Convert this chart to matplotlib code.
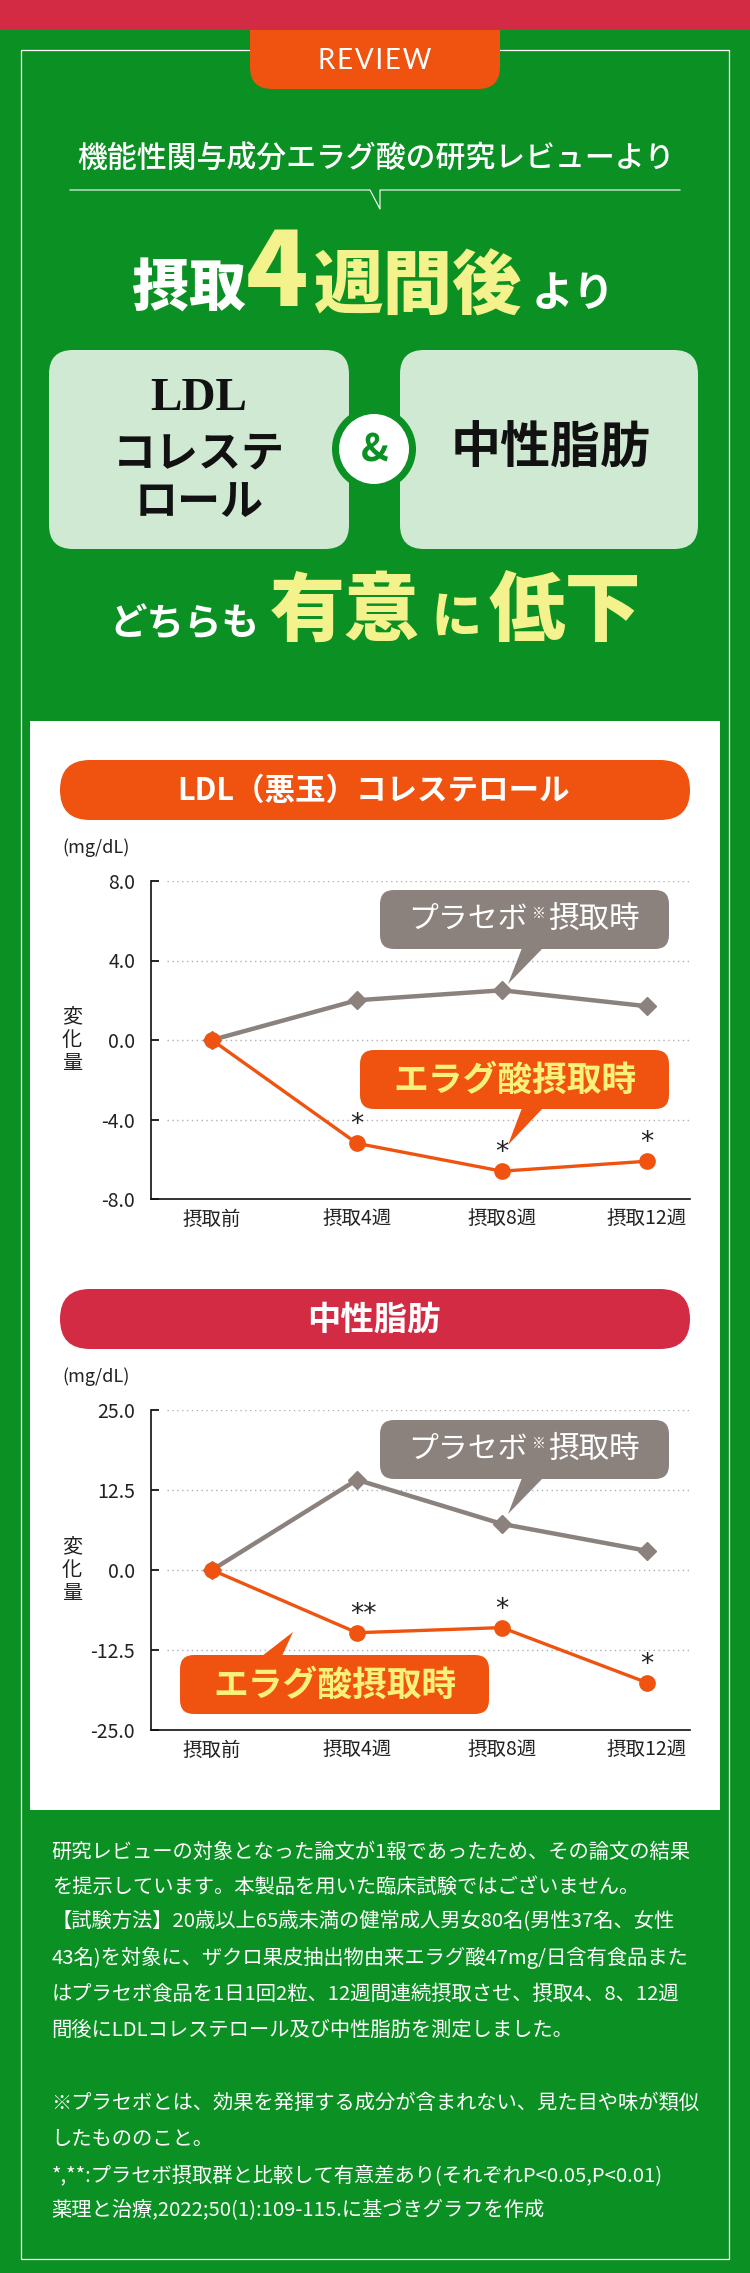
import numpy as np
import matplotlib.pyplot as plt
from matplotlib.patches import FancyBboxPatch, Rectangle, Polygon, Circle

plt.rcParams['font.family'] = ['Noto Sans CJK JP', 'DejaVu Sans']

# ---- data ----
weeks = ['摂取前', '摂取4週', '摂取8週', '摂取12週']

ldl_placebo = [0.0, 2.0, 2.5, 1.7]
ldl_ellagic = [0.0, -5.2, -6.6, -6.1]
ldl_marks = ['', '*', '*', '*']
ldl_ticks = [8.0, 4.0, 0.0, -4.0, -8.0]

tg_placebo = [0.0, 14.1, 7.2, 3.0]
tg_ellagic = [0.0, -9.8, -9.0, -17.6]
tg_marks = ['', '**', '*', '*']
tg_ticks = [25.0, 12.5, 0.0, -12.5, -25.0]

notes = [
    '研究レビューの対象となった論文が1報であったため、その論文の結果',
    'を提示しています。本製品を用いた臨床試験ではございません。',
    '【試験方法】20歳以上65歳未満の健常成人男女80名(男性37名、女性',
    '43名)を対象に、ザクロ果皮抽出物由来エラグ酸47mg/日含有食品また',
    'はプラセボ食品を1日1回2粒、12週間連続摂取させ、摂取4、8、12週',
    '間後にLDLコレステロール及び中性脂肪を測定しました。',
    '',
    '※プラセボとは、効果を発揮する成分が含まれない、見た目や味が類似',
    'したもののこと。',
    '*,**:プラセボ摂取群と比較して有意差あり(それぞれP<0.05,P<0.01)',
    '薬理と治療,2022;50(1):109-115.に基づきグラフを作成',
]

GREEN = '#0b9023'
RED = '#d42b45'
ORANGE = '#ef530f'
GRAY = '#8b827e'
PALE = '#d0e9d3'
YELLOW = '#f4f28c'
BYELLOW = '#f9f27a'
INK = '#222222'

W, H = 750, 2273
fig = plt.figure(figsize=(7.5, 22.73), dpi=100, facecolor=GREEN)

bg = fig.add_axes([0, 0, 1, 1], zorder=0)
bg.set_xlim(0, W)
bg.set_ylim(H, 0)
bg.axis('off')

fg = fig.add_axes([0, 0, 1, 1], zorder=5)
fg.set_xlim(0, W)
fg.set_ylim(H, 0)
fg.axis('off')
fg.patch.set_alpha(0)


def rbox(ax, x0, y0, x1, y1, r, color, z=1):
    ax.add_patch(FancyBboxPatch((x0, y0), x1 - x0, y1 - y0,
                                boxstyle=f'round,pad=0,rounding_size={r}',
                                fc=color, ec='none', zorder=z))


# ---- header ----
bg.add_patch(Rectangle((20.6, 50), 708.4, 2209, fill=False, ec='white', lw=0.9, zorder=1))
rbox(bg, 250, -30, 500, 89, 22, ORANGE, z=2)
bg.add_patch(Rectangle((0, 0), W, 30, fc=RED, ec='none', zorder=3))
bg.text(375, 61, '\u200a'.join('REVIEW'), family=['Lato', 'DejaVu Sans'], fontsize=20,
        color='white', ha='center', va='center', zorder=4)

bg.text(376, 159, '機能性関与成分エラグ酸の研究レビューより', fontsize=21.5,
        weight='medium', color='white', ha='center', va='center')
bg.plot([70, 370, 380, 380, 680], [190, 190, 209, 190, 190], color='white', lw=0.8)

bg.text(189, 290, '摂取', fontsize=41, weight='black', color='white', ha='center', va='center')
bg.text(277, 275, '4', fontsize=74, weight='black', color=YELLOW, ha='center', va='center')
bg.text(418, 288, '週間後', fontsize=50, weight='black', color=YELLOW, ha='center', va='center')
bg.text(573, 294, 'より', fontsize=30, weight='bold', color='white', ha='center', va='center')

rbox(bg, 49, 350, 349, 549, 24, PALE)
rbox(bg, 400, 350, 698, 549, 24, PALE)
bg.add_patch(Circle((374, 449), 42, fc=GREEN, ec='none', zorder=2))
bg.add_patch(Circle((374, 449), 35, fc='white', ec='none', zorder=3))
bg.text(375, 450, '&', fontsize=27, weight='bold', color=GREEN, ha='center', va='center', zorder=4)

bg.text(199, 399, 'LDL', family='Liberation Serif', fontsize=34, weight='bold',
        color='#111111', ha='center', va='center')
bg.text(199, 453, 'コレステ', fontsize=31, weight='bold', color='#111111', ha='center', va='center')
bg.text(199, 502, 'ロール', fontsize=31, weight='bold', color='#111111', ha='center', va='center')
bg.text(551, 449, '中性脂肪', fontsize=36, weight='bold', color='#111111', ha='center', va='center')

bg.text(184, 624, 'どちらも', fontsize=27, weight='bold', color='white', ha='center', va='center')
bg.text(345, 613, '有意', fontsize=54, weight='black', color=YELLOW, ha='center', va='center')
bg.text(456, 618, 'に', fontsize=36, weight='black', color=YELLOW, ha='center', va='center')
bg.text(565, 612, '低下', fontsize=55, weight='black', color=YELLOW, ha='center', va='center')

# ---- white panel ----
bg.add_patch(Rectangle((30, 721), 690, 1089, fc='white', ec='none', zorder=1))


def chart(top, bottom, title, title_color, title_size, ticks, placebo, ellagic, marks):
    ax = fig.add_axes([150.5 / W, 1 - bottom / H, (690 - 150.5) / W, (bottom - top) / H], zorder=2)
    ax.set_facecolor('none')
    x = np.arange(len(weeks))
    ax.set_xlim(-0.424, 3.297)
    ax.set_ylim(ticks[-1], ticks[0])
    for s in ['top', 'right']:
        ax.spines[s].set_visible(False)
    for s in ['left', 'bottom']:
        ax.spines[s].set_linewidth(1.2)
        ax.spines[s].set_color('#111111')
    ax.hlines(ticks[:-1], (167 - 150.5) / 539.5, 1, transform=ax.get_yaxis_transform(),
              colors='#b0b0b0', linestyles=(0, (1, 2.5)), lw=1, zorder=1)
    ax.plot(x, placebo, color=GRAY, lw=3.2, marker='D', ms=9, zorder=3, clip_on=False)
    ax.plot(x, ellagic, color=ORANGE, lw=2.4, marker='o', ms=11, zorder=4, clip_on=False)
    for xi, v, m in zip(x, ellagic, marks):
        if m:
            ax.annotate(m, (xi, v), xytext=(6 if len(m) > 1 else 0, 18),
                        textcoords='offset pixels', ha='center', va='center',
                        family='DejaVu Sans', fontsize=19, color=INK)
    ax.set_yticks(ticks)
    ax.set_yticklabels([f'{t:.1f}' for t in ticks])
    ax.tick_params(axis='y', direction='in', length=6, width=1.2, pad=11,
                   labelsize=14, labelcolor=INK)
    ax.set_xticks(x)
    ax.set_xticklabels(weeks)
    ax.tick_params(axis='x', length=0, pad=7, labelsize=14, labelcolor=INK)

    # title pill
    rbox(bg, 60, top - 121, 690, top - 61, 30, title_color, z=2)
    bg.text(374, top - 90, title, fontsize=title_size, weight='bold', color='white',
            ha='center', va='center', zorder=3)
    bg.text(62, top - 33, '(mg/dL)', fontsize=13, color=INK, ha='left', va='center', zorder=3)
    zero_y = top + (bottom - top) * ticks[0] / (ticks[0] - ticks[-1])
    for i, ch in enumerate('変化量'):
        bg.text(72, zero_y + (i - 1) * 23, ch, fontsize=14.5, color=INK,
                ha='center', va='center', zorder=3)
    return ax


def placebo_bubble(x0, y0):
    rbox(fg, x0, y0, x0 + 289, y0 + 59, 14, GRAY, z=2)
    fg.add_patch(Polygon([(x0 + 142, y0 + 58), (x0 + 163, y0 + 58), (x0 + 128, y0 + 94)],
                         fc=GRAY, ec='none', zorder=2))
    cy = y0 + 29.5
    fg.text(x0 + 148, cy, 'プラセボ', fontsize=21.5, color='white', ha='right', va='center', zorder=3)
    fg.text(x0 + 159, cy - 6, '※', fontsize=10, color='white', ha='center', va='center', zorder=3)
    fg.text(x0 + 168, cy, '摂取時', fontsize=22, color='white', ha='left', va='center', zorder=3)


def ellagic_bubble(x0, y0, x1, tail):
    rbox(fg, x0, y0, x1, y0 + 59, 14, ORANGE, z=2)
    fg.add_patch(Polygon(tail, fc=ORANGE, ec='none', zorder=2))
    fg.text((x0 + x1) / 2, y0 + 30, 'エラグ酸摂取時', fontsize=25, weight='bold',
            color=BYELLOW, ha='center', va='center', zorder=3)


chart(881, 1199, 'LDL（悪玉）コレステロール', ORANGE, 22, ldl_ticks, ldl_placebo, ldl_ellagic, ldl_marks)
placebo_bubble(380, 890)
ellagic_bubble(360, 1050, 669, [(522, 1108), (543, 1108), (508, 1145)])

chart(1410, 1730, '中性脂肪', RED, 24, tg_ticks, tg_placebo, tg_ellagic, tg_marks)
placebo_bubble(380, 1420)
ellagic_bubble(180, 1655, 489, [(262, 1656), (282, 1656), (293, 1632)])

# ---- notes ----
line_y = [1852, 1887, 1922, 1958, 1994, 2030, 2066, 2103, 2140, 2176, 2211]
for y, line in zip(line_y, notes):
    if line:
        bg.text(51.6, y, line, fontsize=14.6, color='white', ha='left', va='center', zorder=3)

fig.savefig('out.png', dpi=100, facecolor=GREEN)
